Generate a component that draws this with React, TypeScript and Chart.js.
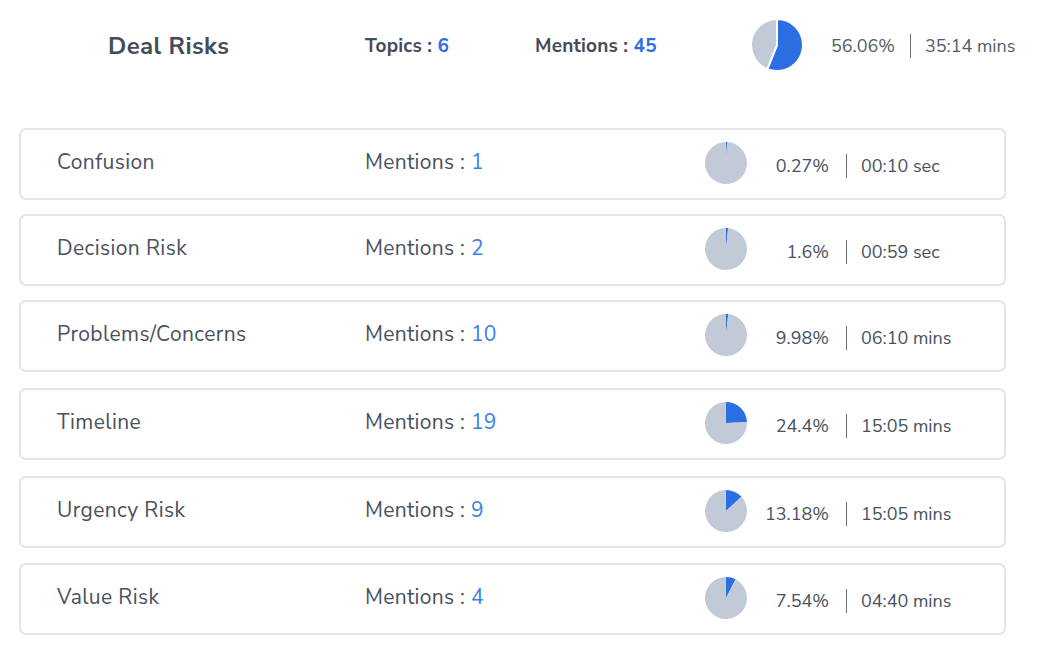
import React, { useEffect, useRef } from "react";
import { Chart, registerables } from "chart.js";

Chart.register(...registerables);

const headerTitle = "Deal Risks";
const totalTopics = 6;
const totalMentions = 45;
const totalShareLabel = "56.06%";
const totalShare = 56.06;
const totalDuration = "35:14 mins";

const topicNames = ["Confusion", "Decision Risk", "Problems/Concerns", "Timeline", "Urgency Risk", "Value Risk"];
const topicMentions = [1, 2, 10, 19, 9, 4];
const topicShareLabels = ["0.27%", "1.6%", "9.98%", "24.4%", "13.18%", "7.54%"];
const topicPieShares = [0.8, 1.6, 1.7, 24.4, 13.18, 7.54];
const topicDurations = ["00:10 sec", "00:59 sec", "06:10 mins", "15:05 mins", "15:05 mins", "04:40 mins"];

const BLUE = "#2c6fe3";
const NUM_BLUE = "#3a7fea";
const GREY = "#c3cad7";
const TEXT = "#4a5160";
const FONT = "'Nunito Sans', Lato, 'Open Sans', sans-serif";

function Pie({ share, size, border }: { share: number; size: number; border: number }) {
  const ref = useRef<HTMLCanvasElement | null>(null);
  useEffect(() => {
    if (!ref.current) return;
    const chart = new Chart(ref.current, {
      type: "pie",
      data: {
        labels: ["share", "rest"],
        datasets: [
          {
            data: [share, 100 - share],
            backgroundColor: [BLUE, GREY],
            borderColor: "#ffffff",
            borderWidth: border,
          },
        ],
      },
      options: {
        responsive: false,
        animation: false,
        plugins: { legend: { display: false }, tooltip: { enabled: false } },
        layout: { padding: 0 },
      },
    });
    return () => chart.destroy();
  }, [share, size, border]);
  return <canvas ref={ref} width={size} height={size} style={{ width: size, height: size, display: "block" }} />;
}

function Abs({ left, cy, size, weight, color, children, right, ls }: any) {
  const lh = 30;
  const style: React.CSSProperties = {
    position: "absolute",
    top: cy - lh / 2,
    height: lh,
    lineHeight: lh + "px",
    fontSize: size,
    fontWeight: weight || 400,
    color: color || TEXT,
    whiteSpace: "nowrap",
    fontFamily: FONT,
    letterSpacing: ls || 0,
  };
  if (right !== undefined) {
    style.right = right;
    style.textAlign = "right";
  } else style.left = left;
  return <div style={style}>{children}</div>;
}

export default function App() {
  const rowTops = [128, 214, 300, 388, 476, 563];
  return (
    <div style={{ position: "absolute", left: 0, top: 0, width: 1037, height: 656, background: "#fff", fontFamily: FONT, overflow: "hidden" }}>
      <Abs left={108} cy={46} size={24} weight={700} color="#454c59" ls={0.4}>{headerTitle}</Abs>
      <Abs left={365} cy={46} size={19} weight={700} color="#454c59" ls={0.2}>
        Topics : <span style={{ color: BLUE }}>{totalTopics}</span>
      </Abs>
      <Abs left={535} cy={46} size={19} weight={700} color="#454c59" ls={0.2}>
        Mentions : <span style={{ color: BLUE }}>{totalMentions}</span>
      </Abs>
      <div style={{ position: "absolute", left: 750, top: 18 }}>
        <Pie share={totalShare} size={54} border={2} />
      </div>
      <Abs left={831} cy={46} size={18} color="#555c68">{totalShareLabel}</Abs>
      <div style={{ position: "absolute", left: 910, top: 34, width: 1, height: 24, background: "#6a707a" }} />
      <Abs left={925} cy={46} size={18} color="#555c68">{totalDuration}</Abs>

      {topicNames.map((name, i) => {
        const top = rowTops[i];
        return (
          <React.Fragment key={name}>
            <div
              style={{
                position: "absolute",
                left: 19,
                top,
                width: 987,
                height: 72,
                boxSizing: "border-box",
                border: "2px solid #e3e4e6",
                borderRadius: 7,
              }}
            />
            <Abs left={57} cy={top + 34} size={21} ls={0.4}>{name}</Abs>
            <Abs left={365} cy={top + 34} size={21} ls={0.3}>
              Mentions : <span style={{ color: NUM_BLUE }}>{topicMentions[i]}</span>
            </Abs>
            <div style={{ position: "absolute", left: 705, top: top + 14 }}>
              <Pie share={topicPieShares[i]} size={42} border={0} />
            </div>
            <Abs right={1037 - 829} cy={top + 38} size={18}>{topicShareLabels[i]}</Abs>
            <div style={{ position: "absolute", left: 846, top: top + 26, width: 1, height: 24, background: "#6a707a" }} />
            <Abs left={861} cy={top + 38} size={18}>{topicDurations[i]}</Abs>
          </React.Fragment>
        );
      })}
    </div>
  );
}
